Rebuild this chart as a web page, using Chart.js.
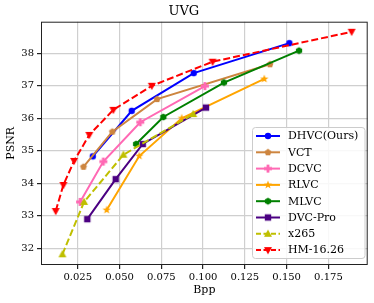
<!DOCTYPE html>
<html>
<head>
<meta charset="utf-8">
<script src="https://cdn.jsdelivr.net/npm/chart.js@4.4.0/dist/chart.umd.min.js"></script>
<style>
  html, body { margin: 0; padding: 0; background: #fff; }
  #wrap { width: 374px; height: 303px; }
</style>
</head>
<body>
<div id="wrap"><canvas id="chart1" width="374" height="303"></canvas></div>
<script>
// DATOS
const seriesNames = ['DHVC(Ours)', 'VCT', 'DCVC', 'RLVC', 'MLVC', 'DVC-Pro', 'x265', 'HM-16.26'];

const dhvcX = [0.0340, 0.0573, 0.0944, 0.1516];
const dhvcY = [34.83, 36.23, 37.39, 38.31];
const vctX = [0.0284, 0.0457, 0.0725, 0.1400];
const vctY = [34.51, 35.59, 36.59, 37.66];
const dcvcX = [0.0264, 0.0403, 0.0624, 0.1011];
const dcvcY = [33.43, 34.67, 35.88, 36.99];
const rlvcX = [0.0423, 0.0618, 0.0872, 0.1366];
const rlvcY = [33.18, 34.84, 36.00, 37.21];
const mlvcX = [0.0599, 0.0762, 0.1125, 0.1574];
const mlvcY = [35.21, 36.04, 37.10, 38.08];
const dvcX = [0.0307, 0.0477, 0.0639, 0.1017];
const dvcY = [32.90, 34.13, 35.21, 36.33];
const x265X = [0.0158, 0.0288, 0.0523, 0.0941];
const x265Y = [31.82, 33.43, 34.88, 36.13];
const hmX = [0.0118, 0.0164, 0.0228, 0.0319, 0.0463, 0.0693, 0.1057, 0.1889];
const hmY = [33.15, 33.95, 34.69, 35.49, 36.26, 37.00, 37.74, 38.66];

const xTicks = [0.025, 0.050, 0.075, 0.100, 0.125, 0.150, 0.175];
const yTicks = [32, 33, 34, 35, 36, 37, 38];

// Marcadores dibujados a mano
function marcador(forma, color) {
  const s = 12;
  const c = document.createElement('canvas');
  c.width = s; c.height = s;
  const g = c.getContext('2d');
  const cx = s / 2, cy = s / 2;
  g.fillStyle = color;
  g.beginPath();
  if (forma === 'circle') {
    g.arc(cx, cy, 3.2, 0, Math.PI * 2);
  } else if (forma === 'pentagon' || forma === 'hexagon') {
    const n = forma === 'pentagon' ? 5 : 6;
    const r = 3.6;
    for (let i = 0; i < n; i++) {
      const a = -Math.PI / 2 + i * 2 * Math.PI / n;
      const px = cx + r * Math.cos(a), py = cy + r * Math.sin(a);
      i === 0 ? g.moveTo(px, py) : g.lineTo(px, py);
    }
    g.closePath();
  } else if (forma === 'plus') {
    const a = 4, b = 1.4;
    g.moveTo(cx - b, cy - a); g.lineTo(cx + b, cy - a); g.lineTo(cx + b, cy - b);
    g.lineTo(cx + a, cy - b); g.lineTo(cx + a, cy + b); g.lineTo(cx + b, cy + b);
    g.lineTo(cx + b, cy + a); g.lineTo(cx - b, cy + a); g.lineTo(cx - b, cy + b);
    g.lineTo(cx - a, cy + b); g.lineTo(cx - a, cy - b); g.lineTo(cx - b, cy - b);
    g.closePath();
  } else if (forma === 'star') {
    for (let i = 0; i < 10; i++) {
      const r = i % 2 === 0 ? 4.4 : 1.8;
      const a = -Math.PI / 2 + i * Math.PI / 5;
      const px = cx + r * Math.cos(a), py = cy + r * Math.sin(a);
      i === 0 ? g.moveTo(px, py) : g.lineTo(px, py);
    }
    g.closePath();
  } else if (forma === 'square') {
    g.rect(cx - 3.2, cy - 3.2, 6.4, 6.4);
  } else if (forma === 'up') {
    g.moveTo(cx, cy - 4.2); g.lineTo(cx + 4, cy + 3); g.lineTo(cx - 4, cy + 3); g.closePath();
  } else if (forma === 'down') {
    g.moveTo(cx, cy + 4.2); g.lineTo(cx + 4, cy - 3); g.lineTo(cx - 4, cy - 3); g.closePath();
  }
  g.fill();
  return c;
}

const estilos = [
  { color: '#0000ff', forma: 'circle', dash: [] },
  { color: '#cd853f', forma: 'pentagon', dash: [] },
  { color: '#ff69b4', forma: 'plus', dash: [] },
  { color: '#ffa500', forma: 'star', dash: [] },
  { color: '#008000', forma: 'hexagon', dash: [] },
  { color: '#4b0082', forma: 'square', dash: [] },
  { color: '#bfbf00', forma: 'up', dash: [7, 3] },
  { color: '#ff0000', forma: 'down', dash: [7, 3] }
];

const xs = [dhvcX, vctX, dcvcX, rlvcX, mlvcX, dvcX, x265X, hmX];
const ys = [dhvcY, vctY, dcvcY, rlvcY, mlvcY, dvcY, x265Y, hmY];

const datasets = seriesNames.map((nombre, i) => {
  const img = marcador(estilos[i].forma, estilos[i].color);
  estilos[i].img = img;
  return {
    label: nombre,
    data: xs[i].map((x, j) => ({ x: x, y: ys[i][j] })),
    borderColor: estilos[i].color,
    backgroundColor: estilos[i].color,
    borderWidth: 2,
    borderDash: estilos[i].dash,
    pointStyle: img,
    pointRadius: 4,
    pointHoverRadius: 4,
    fill: false,
    tension: 0,
    order: 8 - i
  };
});

const serif = "'DejaVu Serif', serif";

// Marco y leyenda
const marcoLeyenda = {
  id: 'marcoLeyenda',
  afterDraw(chart) {
    const ctx = chart.ctx;
    const a = chart.chartArea;
    ctx.save();
    ctx.strokeStyle = '#222';
    ctx.lineWidth = 1;
    ctx.strokeRect(a.left + 0.5, a.top + 0.5, a.right - a.left - 1, a.bottom - a.top - 1);

    // leyenda
    const bx = 252.5, by = 127.5, bw = 112.5, bh = 131;
    ctx.fillStyle = 'rgba(255,255,255,0.85)';
    ctx.strokeStyle = '#cccccc';
    ctx.beginPath();
    ctx.roundRect(bx, by, bw, bh, 3);
    ctx.fill();
    ctx.stroke();
    ctx.font = '11px ' + serif;
    ctx.textBaseline = 'middle';
    ctx.textAlign = 'left';
    seriesNames.forEach((nombre, i) => {
      const yy = 136 + i * 16.3;
      ctx.strokeStyle = estilos[i].color;
      ctx.lineWidth = 2;
      ctx.setLineDash(estilos[i].dash.length ? [5, 2.5] : []);
      ctx.beginPath();
      ctx.moveTo(256, yy);
      ctx.lineTo(280, yy);
      ctx.stroke();
      ctx.setLineDash([]);
      ctx.drawImage(estilos[i].img, 268 - 6, yy - 6);
      ctx.fillStyle = '#000';
      ctx.fillText(nombre, 288, yy + 0.5);
    });
    ctx.restore();
  }
};

const ctx1 = document.getElementById('chart1').getContext('2d');
new Chart(ctx1, {
  type: 'line',
  data: { datasets: datasets },
  options: {
    responsive: false,
    animation: false,
    layout: { padding: { left: 0, right: 6.3, top: 0, bottom: 0 } },
    plugins: {
      legend: { display: false },
      tooltip: { enabled: false },
      title: {
        display: true,
        text: 'UVG',
        color: '#000',
        font: { family: serif, size: 13, weight: 'normal' },
        padding: { top: 4, bottom: 2.1 }
      }
    },
    scales: {
      x: {
        type: 'linear',
        min: 0.003,
        max: 0.1985,
        afterFit: s => { s.height = 38; },
        afterBuildTicks: s => { s.ticks = xTicks.map(v => ({ value: v })); },
        grid: { color: '#cfcfcf', lineWidth: 1.2, tickLength: 4, tickColor: '#222' },
        border: { display: false },
        ticks: {
          color: '#000',
          padding: 2,
          maxRotation: 0,
          font: { family: serif, size: 10 },
          callback: v => v.toFixed(3)
        },
        title: {
          display: true,
          text: 'Bpp',
          color: '#000',
          font: { family: serif, size: 11 },
          padding: { top: 0, bottom: 6.4 }
        }
      },
      y: {
        type: 'linear',
        min: 31.49,
        max: 38.97,
        afterFit: s => { s.width = 41; },
        afterBuildTicks: s => { s.ticks = yTicks.map(v => ({ value: v })); },
        grid: { color: '#cfcfcf', lineWidth: 1.2, tickLength: 4, tickColor: '#222' },
        border: { display: false },
        ticks: {
          color: '#000',
          padding: 3,
          font: { family: serif, size: 10 },
          callback: v => String(v)
        },
        title: {
          display: true,
          text: 'PSNR',
          color: '#000',
          font: { family: serif, size: 11 },
          padding: { top: 4.4, bottom: 0 }
        }
      }
    }
  },
  plugins: [marcoLeyenda]
});
</script>
</body>
</html>
